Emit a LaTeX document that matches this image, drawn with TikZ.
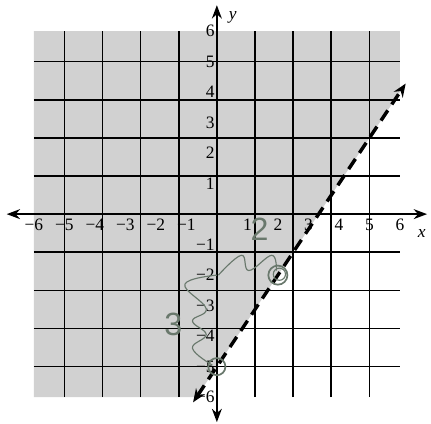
\documentclass[tikz,border=0pt]{standalone}
\usepackage{fontspec}
\setmainfont{Liberation Serif}
\setsansfont{Liberation Sans}
\usetikzlibrary{arrows.meta}
\definecolor{pencil}{RGB}{105,120,108}

\begin{document}
\begin{tikzpicture}[x=0.8cm,y=0.8cm]
	\useasboundingbox (-7.11,-6.85) rectangle (7.02,7.02);
	% shaded half-plane and grid
	\fill[black!18] (-6,-6) -- (-0.667,-6) -- (6,4) -- (6,6) -- (-6,6) -- cycle;
	\draw [line width=0.42mm] (-6,-6) grid (6,6);
	% axes
	\coordinate (XL) at (-6.89,0);
	\coordinate (XR) at (6.89,0);
	\coordinate (YB) at (0,-6.82);
	\coordinate (YT) at (0,6.85);
	\draw [line width=0.5mm,{Stealth[length=3.5mm,width=2.6mm]}-{Stealth[length=3.5mm,width=2.6mm]}] (XL) -- (XR);
	\draw [line width=0.5mm,{Stealth[length=3.5mm,width=2.6mm]}-{Stealth[length=3.5mm,width=2.6mm]}] (YB) -- (YT);
	\begin{scope}[every node/.style={inner sep=1pt,font=\fontsize{13}{15}\selectfont}]
	\foreach \i in {-6,-5,-4,-3,-2,-1,1,2,3,4,5,6} {
		\pgfmathtruncatemacro{\a}{abs(\i)}
		\ifnum\i<0
			\node[anchor=north] (xl\a m) at (\i,-0.12) {−\a};
			\node[anchor=east] (yl\a m) at (-0.02,\i) {−\a};
		\else
			\node[anchor=north] (xl\a) at (\i,-0.12) {\a};
			\node[anchor=east] (yl\a) at (-0.02,\i) {\a};
		\fi
	}
	\node (xname) at (6.72,-0.62) {\textit{x}};
	\node (yname) at (0.52,6.46) {\textit{y}};
	\end{scope}
	% boundary line
	\coordinate (lo) at (-0.78,-6.17);
	\coordinate (hi) at (6.19,4.28);
	\draw [line width=0.9mm,dash pattern=on 3.2mm off 1.9mm,{Stealth[length=3.5mm,width=2.8mm]}-{Stealth[length=3.5mm,width=2.8mm]}] (lo) -- (hi);
	% pencil marks
	\begin{scope}[pencil,line width=0.3mm]
	\node[circle,draw,line width=0.45mm,minimum size=0.45cm] (pa) at (0,-5) {};
	\node[circle,draw,line width=0.45mm,minimum size=0.5cm] (pb) at (2,-2) {};
	\draw (pb.center) ++(0.05,0.03) circle (0.2);
	\draw plot[smooth,tension=0.7] coordinates {(0.05,-2) (0.8,-1.35) (1.05,-1.85) (1.8,-1.35) (1.95,-1.85)};
	\draw plot[smooth,tension=0.7] coordinates {(0,-2) (-1.05,-2.3) (-0.35,-3.1) (-0.8,-3.5) (-0.35,-3.95) (-0.8,-4.4) (-0.15,-4.95)};
	\node[font=\sffamily\fontsize{24}{27}\selectfont] (two) at (1.4,-0.5) {2};
	\node[font=\sffamily\fontsize{24}{27}\selectfont] (three) at (-1.43,-3.6) {3};
	\end{scope}
\end{tikzpicture}
\end{document}
